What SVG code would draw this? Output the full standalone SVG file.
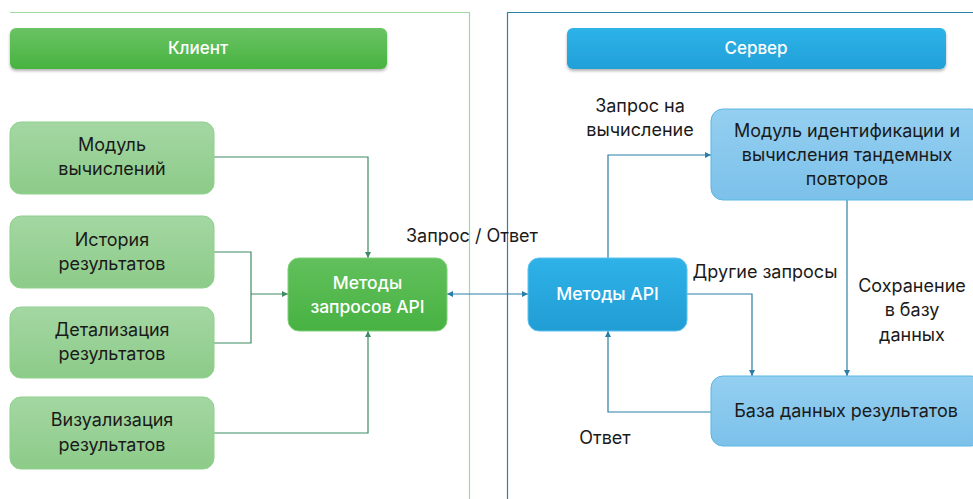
<svg xmlns="http://www.w3.org/2000/svg" width="973" height="499" viewBox="0 0 973 499">
<style>
text{font-family:Inter,"Noto Sans","Liberation Sans",sans-serif;font-size:18px;fill:#1a1a1a;text-anchor:middle}
.w{fill:#ffffff;font-weight:500;font-size:17.5px}
.h{fill:#ffffff;font-weight:500;font-size:17px}
.lg{fill:url(#gLight);stroke:#8fd08c;stroke-width:1}
.lb{fill:url(#bLight);stroke:#5ab6e4;stroke-width:1}
.cg{fill:none;stroke:#3f8c62;stroke-width:1.2}
.cb{fill:none;stroke:#2a7ea6;stroke-width:1.2}
</style>
<defs>
<linearGradient id="gHead" x1="0" y1="0" x2="0" y2="1"><stop offset="0" stop-color="#6ac364"/><stop offset="1" stop-color="#47b340"/></linearGradient>
<linearGradient id="bHead" x1="0" y1="0" x2="0" y2="1"><stop offset="0" stop-color="#2db3e8"/><stop offset="1" stop-color="#22a0d8"/></linearGradient>
<linearGradient id="gLight" x1="0" y1="0" x2="0" y2="1"><stop offset="0" stop-color="#a4d7a3"/><stop offset="1" stop-color="#8ccb88"/></linearGradient>
<linearGradient id="bLight" x1="0" y1="0" x2="0" y2="1"><stop offset="0" stop-color="#94cff0"/><stop offset="1" stop-color="#7cc1ea"/></linearGradient>
<linearGradient id="gMid" x1="0" y1="0" x2="0" y2="1"><stop offset="0" stop-color="#62c05c"/><stop offset="1" stop-color="#47b242"/></linearGradient>
<linearGradient id="bMid" x1="0" y1="0" x2="0" y2="1"><stop offset="0" stop-color="#2eb2e8"/><stop offset="1" stop-color="#219dd4"/></linearGradient>
<filter id="sh" x="-5%" y="-20%" width="110%" height="160%"><feDropShadow dx="0" dy="2" stdDeviation="1.5" flood-color="#000" flood-opacity="0.3"/></filter>
<marker id="ag" viewBox="0 0 8 8" refX="8" refY="4" markerWidth="6" markerHeight="6" markerUnits="userSpaceOnUse" orient="auto-start-reverse"><path d="M0,0 L8,4 L0,8 z" fill="#3f8c62"/></marker>
<marker id="ab" viewBox="0 0 8 8" refX="8" refY="4" markerWidth="6" markerHeight="6" markerUnits="userSpaceOnUse" orient="auto-start-reverse"><path d="M0,0 L8,4 L0,8 z" fill="#2a7ea6"/></marker>
</defs>
<rect width="973" height="499" fill="#ffffff"/>
<g id="client-frame"><path d="M10,12.5 H469.5 V499" fill="none" stroke="#9fd9a3" stroke-width="1.2"/></g>
<g id="server-frame"><path d="M507.5,499 V12.5 H973" fill="none" stroke="#2b7fa8" stroke-width="1.2"/></g>
<g id="client-header"><rect x="10" y="28" width="377" height="41" rx="6" fill="url(#gHead)" filter="url(#sh)"/><text class="h" x="198" y="54">Клиент</text></g>
<g id="server-header"><rect x="567" y="28" width="379" height="41" rx="6" fill="url(#bHead)" filter="url(#sh)"/><text class="h" x="756" y="54">Сервер</text></g>
<g id="connectors">
<path class="cg" d="M214,157 H368 V258" marker-end="url(#ag)"/>
<path class="cg" d="M214,252 H251 V343 H214"/>
<path class="cg" d="M251,294 H288" marker-end="url(#ag)"/>
<path class="cg" d="M214,433 H368 V331" marker-end="url(#ag)"/>
<path class="cb" d="M447,294 H528" marker-start="url(#ab)" marker-end="url(#ab)"/>
<path class="cb" d="M608,258 V155 H711" marker-end="url(#ab)"/>
<path class="cb" d="M847,200 V376" marker-end="url(#ab)"/>
<path class="cb" d="M687,294 H752 V376" marker-end="url(#ab)"/>
<path class="cb" d="M711,412 H608 V331" marker-end="url(#ab)"/>
</g>
<g id="n-modul"><rect class="lg" x="10" y="122" width="204" height="72" rx="11"/><text x="112" y="151">Модуль</text><text x="112" y="175">вычислений</text></g>
<g id="n-history"><rect class="lg" x="10" y="216" width="204" height="72" rx="11"/><text x="112" y="246">История</text><text x="112" y="270">результатов</text></g>
<g id="n-detail"><rect class="lg" x="10" y="307" width="204" height="71" rx="11"/><text x="112" y="336">Детализация</text><text x="112" y="360">результатов</text></g>
<g id="n-visual"><rect class="lg" x="10" y="397" width="204" height="72" rx="11"/><text x="112" y="426">Визуализация</text><text x="112" y="451">результатов</text></g>
<g id="n-client-api"><rect x="288" y="258" width="159" height="73" rx="11" fill="url(#gMid)" stroke="#7fcf7a" stroke-width="1"/><text class="w" x="367.5" y="289">Методы</text><text class="w" x="367.5" y="313">запросов API</text></g>
<g id="n-server-api"><rect x="528" y="258" width="159" height="73" rx="11" fill="url(#bMid)" stroke="#5cc2ee" stroke-width="1"/><text class="w" x="607.5" y="300">Методы API</text></g>
<g id="n-compute"><rect class="lb" x="711" y="109" width="272" height="91" rx="12"/><text x="847" y="137">Модуль идентификации и</text><text x="847" y="161">вычисления тандемных</text><text x="847" y="185">повторов</text></g>
<g id="n-db"><rect class="lb" x="711" y="376" width="272" height="70" rx="12"/><text x="846" y="417">База данных результатов</text></g>
<g id="labels">
<text x="472" y="242">Запрос / Ответ</text>
<text x="640" y="112">Запрос на</text>
<text x="640" y="136">вычисление</text>
<text x="765" y="278">Другие запросы</text>
<text x="912" y="292">Сохранение</text>
<text x="912" y="316">в базу</text>
<text x="912" y="341">данных</text>
<text x="605" y="444">Ответ</text>
</g>
</svg>
